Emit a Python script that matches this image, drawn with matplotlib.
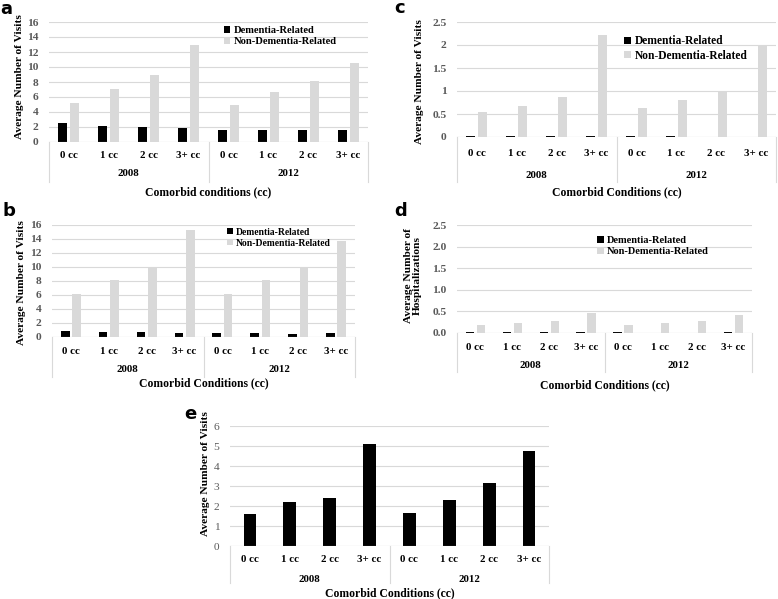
#!/usr/bin/env python3
"""Five-panel bar chart: average visits / hospitalizations by comorbid conditions."""

import matplotlib
matplotlib.use("Agg")
import matplotlib.pyplot as plt
import numpy as np

W, H = 778, 599

years = ["2008", "2012"]
cc_labels = ["0 cc", "1 cc", "2 cc", "3+ cc"]
series_names = ["Dementia-Related", "Non-Dementia-Related"]

# panel a
a_dem = [2.5, 2.1, 2.05, 1.9, 1.6, 1.6, 1.65, 1.55]
a_non = [5.2, 7.1, 8.9, 12.9, 4.9, 6.6, 8.1, 10.5]
# panel b
b_dem = [0.8, 0.72, 0.72, 0.62, 0.57, 0.57, 0.48, 0.57]
b_non = [6.2, 8.2, 9.9, 15.3, 6.1, 8.1, 9.9, 13.75]
# panel c
c_dem = [0.02, 0.02, 0.02, 0.02, 0.02, 0.02, 0.0, 0.0]
c_non = [0.54, 0.67, 0.88, 2.22, 0.62, 0.81, 1.01, 2.01]
# panel d
d_dem = [0.02, 0.02, 0.02, 0.02, 0.02, 0.0, 0.0, 0.02]
d_non = [0.18, 0.22, 0.27, 0.46, 0.18, 0.22, 0.27, 0.42]
# panel e
e_vals = [1.58, 2.22, 2.38, 5.1, 1.65, 2.28, 3.13, 4.75]

SERIF = "Liberation Serif"
FS = 7.8
GRID = "#d9d9d9"
DARK = "#000000"
LIGHT = "#d9d9d9"
TICK = "#595959"


def make_axes(fig, left, top, right, bottom):
    return fig.add_axes([left / W, 1 - bottom / H, (right - left) / W, (bottom - top) / H])


def draw_panel(fig, box, letter, letter_xy, series, ymax, ystep, ylabel, ylabel_xy,
               offsets, legend_xy=None, legend_fs=FS, fmt="{:g}", bar_w=0.225,
               shift=0.15, tick_bold=True):
    left, top, right, bottom = box
    hpx = bottom - top
    ax = make_axes(fig, left, top, right, bottom)
    n = len(years) * len(cc_labels)
    x = np.arange(n)

    colors = [DARK, LIGHT]
    if len(series) == 1:
        ax.bar(x, series[0], width=bar_w, color=DARK, zorder=3)
    else:
        for i, vals in enumerate(series):
            ax.bar(x + (i - 0.5) * 2 * shift, vals, width=bar_w, color=colors[i],
                   label=series_names[i], zorder=3)

    ax.set_xlim(-0.5, n - 0.5)
    ax.set_ylim(0, ymax)
    ticks = np.arange(0, ymax + ystep / 2, ystep)
    ax.set_yticks(ticks)
    ax.set_yticklabels([fmt.format(t) for t in ticks], family=SERIF, fontsize=FS + 0.4,
                       color=TICK, fontweight="bold" if tick_bold else "normal")
    ax.tick_params(axis="y", length=0, pad=7.5)
    ax.set_xticks([])
    ax.grid(axis="y", color=GRID, linewidth=0.8, zorder=0)
    for s in ax.spines.values():
        s.set_visible(False)
    ax.axhline(0, color=GRID, linewidth=0.8, zorder=4)

    # multi-level category axis
    cat_off, year_off, title_off, line_off = offsets
    tr = ax.get_xaxis_transform()
    for xi in x:
        ax.text(xi, -cat_off / hpx, cc_labels[xi % len(cc_labels)], transform=tr,
                ha="center", va="center", family=SERIF, fontsize=FS, fontweight="bold")
    for g, yr in enumerate(years):
        xc = g * len(cc_labels) + (len(cc_labels) - 1) / 2
        ax.text(xc, -year_off / hpx, yr, transform=tr, ha="center", va="center",
                family=SERIF, fontsize=FS, fontweight="bold")
    for xb in [-0.5, len(cc_labels) - 0.5, n - 0.5]:
        ax.plot([xb, xb], [0, -line_off / hpx], transform=tr, color=GRID,
                linewidth=0.8, clip_on=False)
    title = "Comorbid conditions (cc)" if letter == "a" else "Comorbid Conditions (cc)"
    ax.text(0.5, -title_off / hpx, title, transform=ax.transAxes, ha="center",
            va="center", family=SERIF, fontsize=FS + 0.6, fontweight="bold")

    ax.text(ylabel_xy[0], ylabel_xy[1], ylabel, transform=ax.transAxes, rotation=90,
            ha="center", va="center", family=SERIF, fontsize=FS + 0.4, fontweight="bold",
            linespacing=0.95)

    if legend_xy is not None:
        ax.legend(loc="upper left", bbox_to_anchor=legend_xy, frameon=False,
                  prop={"family": SERIF, "size": legend_fs, "weight": "bold"},
                  handlelength=0.6, handleheight=0.6, handletextpad=0.3,
                  labelspacing=0.2, borderpad=0, borderaxespad=0)

    fig.text(letter_xy[0] / W, 1 - letter_xy[1] / H, letter, family="DejaVu Sans",
             fontsize=13, fontweight="bold", ha="left", va="baseline")
    return ax


def main() -> None:
    fig = plt.figure(figsize=(W / 100, H / 100), dpi=100)
    fig.patch.set_facecolor("white")

    draw_panel(fig, (49, 22, 368, 142), "a", (0, 13.5), [a_dem, a_non], 16, 2,
               "Average Number of Visits", (-0.091, 0.544), (14, 32, 50, 40),
               legend_xy=(0.549, 0.965), legend_fs=7.6)
    draw_panel(fig, (457, 22, 776, 137), "c", (394, 13), [c_dem, c_non], 2.5, 0.5,
               "Average Number of Visits", (-0.116, 0.48), (16, 38, 55, 45),
               legend_xy=(0.525, 0.885), legend_fs=8.3)
    draw_panel(fig, (52, 225, 355, 337), "b", (2, 216), [b_dem, b_non], 16, 2,
               "Average Number of Visits", (-0.1, 0.487), (14, 33, 46, 40),
               legend_xy=(0.577, 0.975), legend_fs=6.9)
    draw_panel(fig, (457, 225, 752, 333), "d", (394, 216), [d_dem, d_non], 2.5, 0.5,
               "Average Number of\nHospitalizations", (-0.149, 0.528), (14, 33, 52, 39),
               legend_xy=(0.476, 0.895), legend_fs=7.5, fmt="{:.1f}")
    draw_panel(fig, (230, 426, 549, 546), "e", (184, 419), [e_vals], 6, 1,
               "Average Number of Visits", (-0.078, 0.6), (14, 34, 47, 37),
               bar_w=0.32, tick_bold=False)

    fig.savefig("out.png", dpi=100)
    plt.close(fig)


if __name__ == "__main__":
    main()
